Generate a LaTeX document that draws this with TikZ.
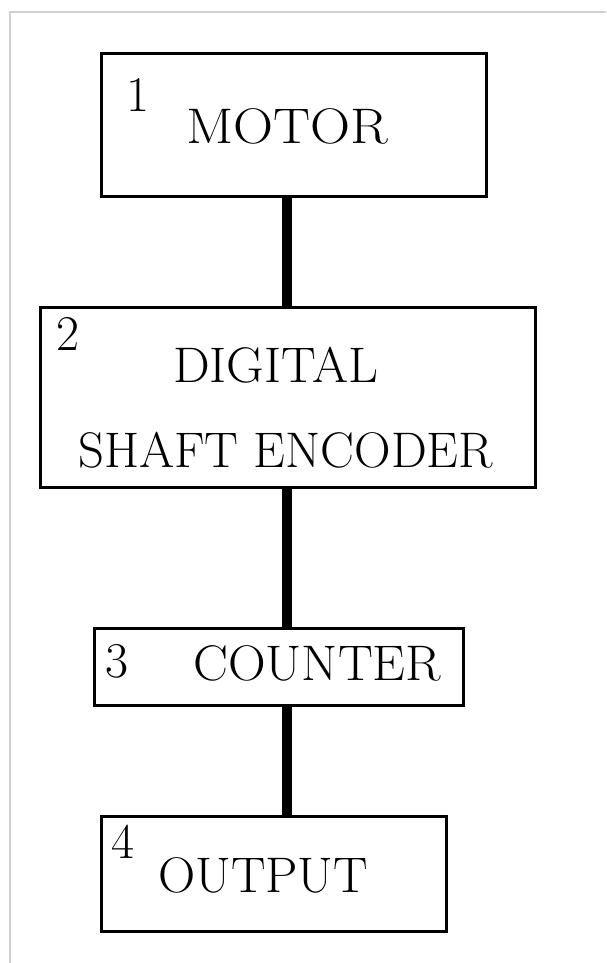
\documentclass[tikz,border=0pt]{standalone}
\usepackage{graphicx}
\begin{document}
\begin{tikzpicture}[x=1pt,y=-1pt,
  blockbox/.style={draw=black, line width=3pt, rectangle, inner sep=0pt},
  lbl/.style={inner sep=0pt, anchor=base west, font=\fontsize{50}{58}\selectfont},
  link/.style={line width=10pt, draw=black}]
\useasboundingbox (0,0) rectangle (606,963);
\draw[color=black!18, line width=1.5pt] (10,963) coordinate (bl) -- (10,12) coordinate (tl) -- (606,12) coordinate (tr);
\coordinate (axis) at (287,0);
\node[blockbox, minimum width=385pt, minimum height=143pt] (b1) at (294,125) {};
\node[blockbox, minimum width=495pt, minimum height=180pt] (b2) at (288,397.5) {};
\node[blockbox, minimum width=369pt, minimum height=77pt] (b3) at (279,667) {};
\node[blockbox, minimum width=345pt, minimum height=115pt] (b4) at (274,874) {};
\draw[link] (b1.south -| axis) -- (b2.north -| axis);
\draw[link] (b2.south -| axis) -- (b3.north -| axis);
\draw[link] (b3.south -| axis) -- (b4.north -| axis);
\node[lbl] (n1) at (126,112) {1};
\node[lbl] (t1) at (186,143) {\resizebox{202pt}{\height}{MOTOR}};
\node[lbl] (n2) at (56,350) {2};
\node[lbl] (t2a) at (173,382) {\resizebox{205pt}{\height}{DIGITAL}};
\node[lbl] (t2b) at (78,467) {\resizebox{415pt}{\height}{SHAFT ENCODER}};
\node[lbl] (n3) at (105,677) {3};
\node[lbl] (t3) at (193,680) {\resizebox{248pt}{\height}{COUNTER}};
\node[lbl] (n4) at (111,858) {4};
\node[lbl] (t4) at (158,892) {\resizebox{210pt}{\height}{OUTPUT}};
\end{tikzpicture}
\end{document}
